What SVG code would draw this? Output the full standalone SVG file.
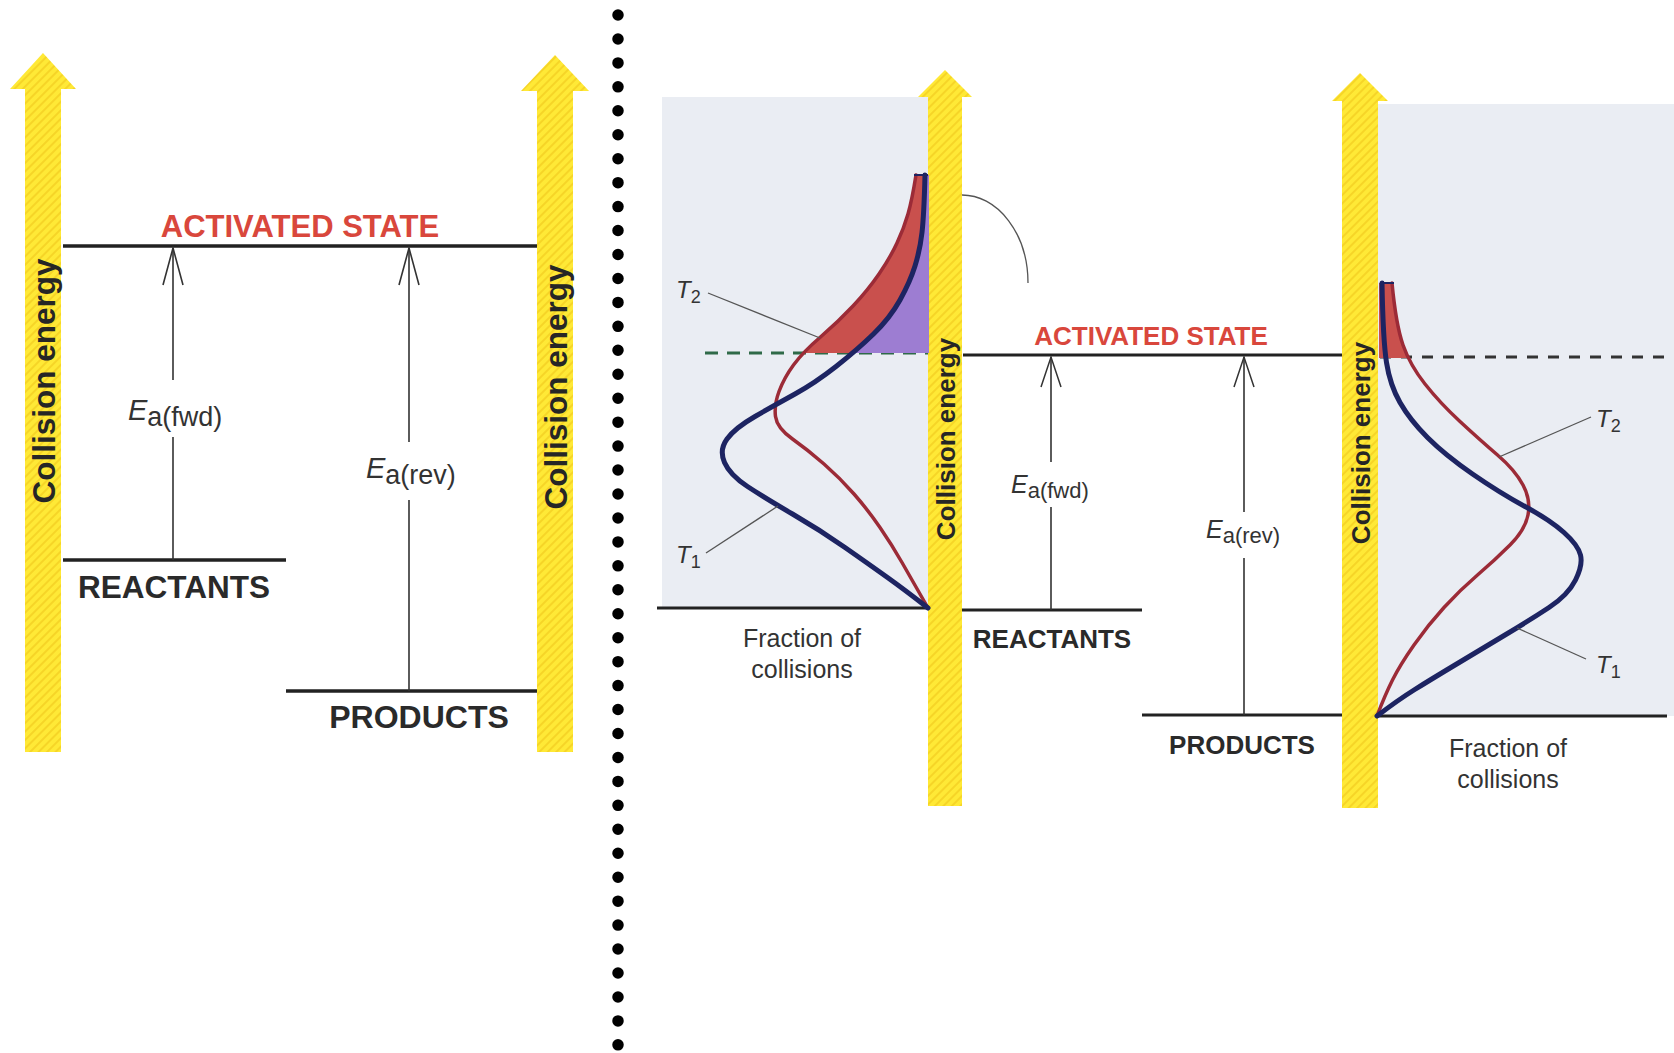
<svg xmlns="http://www.w3.org/2000/svg" width="1674" height="1053" viewBox="0 0 1674 1053">
<style>
.lvl{stroke:#222;stroke-width:3.5;fill:none}
.lvl2{stroke:#222;stroke-width:3;fill:none}
.ea{stroke:#333;stroke-width:1.6;fill:none}
.lead{stroke:#555;stroke-width:1.3;fill:none}
.axisT{font-family:"Liberation Sans",Arial,sans-serif;font-weight:bold;fill:#262626}
.act{font-family:"Liberation Sans",Arial,sans-serif;font-weight:bold;fill:#d9473c}
.lab{font-family:"Liberation Sans",Arial,sans-serif;font-weight:bold;fill:#2a2a2a}
.ital{font-family:"Liberation Sans",Arial,sans-serif;font-style:italic;fill:#333}
.reg{font-family:"Liberation Sans",Arial,sans-serif;fill:#333}
.blue{stroke:#1d2462;stroke-width:5;fill:none;stroke-linecap:round}
.red{stroke:#9c2b37;stroke-width:3.5;fill:none;stroke-linecap:round}
.arrow{fill:url(#hatch)}
</style>
<defs>
<pattern id="hatch" width="6" height="6" patternUnits="userSpaceOnUse" patternTransform="rotate(45)">
<rect width="6" height="6" fill="#ffe936"/>
<rect width="2" height="6" fill="#efc51c" opacity="0.55"/>
</pattern>
<marker id="vL" markerUnits="userSpaceOnUse" markerWidth="42" markerHeight="24" viewBox="0 0 42 24" refX="39" refY="12" orient="auto">
<path d="M2,2 L39,12 L2,22" fill="none" stroke="#333" stroke-width="1.6"/>
</marker>
<marker id="vM" markerUnits="userSpaceOnUse" markerWidth="34" markerHeight="24" viewBox="0 0 34 24" refX="31" refY="12" orient="auto">
<path d="M1,2 L31,12 L1,22" fill="none" stroke="#333" stroke-width="1.5"/>
</marker>
<clipPath id="clipM"><rect x="600" y="175" width="330" height="178"/></clipPath>
<clipPath id="clipR"><rect x="1370" y="283" width="300" height="75"/></clipPath>
</defs>
<rect width="1674" height="1053" fill="#fff"/>

<!-- separator -->
<g id="separator">
<line x1="618" y1="15" x2="618" y2="1045" stroke="#000" stroke-width="11.5" stroke-linecap="round" stroke-dasharray="0 23.95"/>
</g>

<!-- backgrounds of distribution plots -->
<g id="plot-backgrounds">
<rect x="662" y="97" width="266" height="511" fill="#eaedf3"/>
<rect x="1378" y="104" width="296" height="612" fill="#eaedf3"/>
</g>

<!-- yellow energy axes -->
<g id="axis-left1">
<path class="arrow" d="M43,53 L76,89 L61,89 L61,752 L25,752 L25,89 L10,89 Z"/>
<text class="axisT" font-size="31.5" transform="translate(43,381) rotate(-90)" y="11.5" text-anchor="middle">Collision energy</text>
</g>
<g id="axis-left2">
<path class="arrow" d="M555,55 L589,91 L573,91 L573,752 L537,752 L537,91 L521,91 Z"/>
<text class="axisT" font-size="31.5" transform="translate(555,387) rotate(-90)" y="11.5" text-anchor="middle">Collision energy</text>
</g>
<g id="axis-mid">
<path class="arrow" d="M945,70 L972,97 L962,97 L962,806 L928,806 L928,97 L918,97 Z"/>
<text class="axisT" font-size="26" transform="translate(945,439) rotate(-90)" y="9.5" text-anchor="middle">Collision energy</text>
</g>
<g id="axis-right">
<path class="arrow" d="M1360,73 L1388,101 L1378,101 L1378,808 L1342,808 L1342,101 L1332,101 Z"/>
<text class="axisT" font-size="26" transform="translate(1360,443) rotate(-90)" y="9.5" text-anchor="middle">Collision energy</text>
</g>

<!-- LEFT PANEL -->
<g id="left-activated">
<line class="lvl" x1="63" y1="246" x2="537" y2="246"/>
<text class="act" font-size="31" x="300" y="237" text-anchor="middle">ACTIVATED STATE</text>
</g>
<g id="left-reactants">
<line class="lvl" x1="63" y1="560" x2="286" y2="560"/>
<text class="lab" font-size="31.5" x="174" y="598" text-anchor="middle">REACTANTS</text>
</g>
<g id="left-products">
<line class="lvl" x1="286" y1="691" x2="537" y2="691"/>
<text class="lab" font-size="32" x="419" y="728" text-anchor="middle">PRODUCTS</text>
</g>
<g id="left-ea-fwd-label">
<text x="128" y="420"><tspan class="ital" font-size="29">E</tspan><tspan class="reg" font-size="27" dy="6">a(fwd)</tspan></text>
</g>
<g id="left-ea-rev-label">
<text x="366" y="478"><tspan class="ital" font-size="29">E</tspan><tspan class="reg" font-size="27" dy="6">a(rev)</tspan></text>
</g>

<!-- MIDDLE / RIGHT PANEL levels -->
<g id="mid-activated">
<line class="lvl2" x1="963" y1="355" x2="1342" y2="355"/>
<text class="act" font-size="26" x="1151" y="345" text-anchor="middle">ACTIVATED STATE</text>
</g>
<g id="mid-reactants">
<line class="lvl2" x1="962" y1="610" x2="1142" y2="610"/>
<text class="lab" font-size="26" x="1052" y="648" text-anchor="middle">REACTANTS</text>
</g>
<g id="mid-products">
<line class="lvl2" x1="1142" y1="715" x2="1342" y2="715"/>
<text class="lab" font-size="26" x="1242" y="754" text-anchor="middle">PRODUCTS</text>
</g>
<g id="mid-ea-fwd-label">
<text x="1011" y="493"><tspan class="ital" font-size="25">E</tspan><tspan class="reg" font-size="22" dy="5">a(fwd)</tspan></text>
</g>
<g id="mid-ea-rev-label">
<text x="1206" y="538"><tspan class="ital" font-size="25">E</tspan><tspan class="reg" font-size="22" dy="5">a(rev)</tspan></text>
</g>

<!-- Distribution plot 1 (forward) -->
<g id="dist-fwd">
<line class="lvl2" x1="657" y1="608" x2="929" y2="608"/>
<line x1="705" y1="353" x2="928" y2="353" stroke="#2f6a48" stroke-width="3" stroke-dasharray="13 9"/>
<g clip-path="url(#clipM)">
<path fill="#c9504d" d="M916,175 Q912,200 908,214 Q904,228 897,243 Q890,258 879,274 Q868,290 853,306 Q838,322 820.5,337 Q803,352 793.5,365 L929,365 L929,175 Z"/>
<path fill="#9d7dd2" d="M925,175 Q924,215 922,232.5 Q920,250 915,266 Q910,282 900,300 Q890,318 873.5,334 Q857,350 836,366.5 L929,366.5 L929,175 Z"/>
</g>
<path class="red" d="M916,175 Q912,200 908,214 Q904,228 897,243 Q890,258 879,274 Q868,290 853,306 Q838,322 820.5,337 Q803,352 793.5,365 Q784,378 779,391.5 Q774,405 775.5,416.5 Q777,428 792.5,439 Q808,450 824,464 Q840,478 854,494 Q868,510 880,527.5 Q892,545 902,562.5 Q912,580 928,608"/>
<path class="blue" d="M925,175 Q924,215 922,232.5 Q920,250 915,266 Q910,282 900,300 Q890,318 873.5,334 Q857,350 836,366.5 Q815,383 795,394 Q775,405 755,416.5 Q735,428 727,439 Q719,450 724.5,462.5 Q730,475 747.5,486.5 Q765,498 792.5,514 Q820,530 845,547.5 Q870,565 887.5,577.5 Q905,590 928,608"/>
<line x1="914" y1="175" x2="928" y2="175" stroke="#1d2462" stroke-width="2"/>
<text x="676" y="298"><tspan class="ital" font-size="24">T</tspan><tspan class="reg" font-size="18" dy="5">2</tspan></text>
<text x="676" y="563"><tspan class="ital" font-size="24">T</tspan><tspan class="reg" font-size="18" dy="5">1</tspan></text>
<text class="reg" font-size="25" x="802" y="647" text-anchor="middle">Fraction of</text>
<text class="reg" font-size="25" x="802" y="678" text-anchor="middle">collisions</text>
</g>

<!-- Distribution plot 2 (reverse) -->
<g id="dist-rev">
<line class="lvl2" x1="1378" y1="716" x2="1667" y2="716"/>
<line x1="1380" y1="357" x2="1670" y2="357" stroke="#333" stroke-width="3" stroke-dasharray="11 10"/>
<g clip-path="url(#clipR)">
<path fill="#c9504d" d="M1392,283 Q1396,325 1403,345 Q1410,365 1425,384 L1379,384 L1379,283 Z"/>
</g>
<path class="red" d="M1392,283 Q1396,325 1403,345 Q1410,365 1425,384 Q1440,403 1460,421.5 Q1480,440 1497.5,455 Q1515,470 1523,485 Q1531,500 1528,515 Q1525,530 1510,545 Q1495,560 1477.5,575 Q1460,590 1444,607.5 Q1428,625 1414,645 Q1400,665 1392.5,680 Q1385,695 1377,716"/>
<path class="blue" d="M1382,283 Q1383,340 1386.5,362.5 Q1390,385 1400,402.5 Q1410,420 1427.5,437.5 Q1445,455 1472.5,474 Q1500,493 1525,506.5 Q1550,520 1564,532.5 Q1578,545 1580.5,555 Q1583,565 1575.5,580 Q1568,595 1549,607.5 Q1530,620 1505,635 Q1480,650 1455,665 Q1430,680 1414,690 Q1398,700 1377,716"/>
<line x1="1380" y1="283" x2="1394" y2="283" stroke="#1d2462" stroke-width="2"/>
<text x="1596" y="427"><tspan class="ital" font-size="24">T</tspan><tspan class="reg" font-size="18" dy="5">2</tspan></text>
<text x="1596" y="673"><tspan class="ital" font-size="24">T</tspan><tspan class="reg" font-size="18" dy="5">1</tspan></text>
<text class="reg" font-size="25" x="1508" y="757" text-anchor="middle">Fraction of</text>
<text class="reg" font-size="25" x="1508" y="788" text-anchor="middle">collisions</text>
</g>

<!-- connectors -->
<g id="connectors">
<line class="ea" x1="173" y1="380" x2="173" y2="248" marker-end="url(#vL)"/>
<line class="ea" x1="173" y1="437" x2="173" y2="560"/>
<line class="ea" x1="409" y1="442" x2="409" y2="248" marker-end="url(#vL)"/>
<line class="ea" x1="409" y1="500" x2="409" y2="691"/>
<line class="ea" x1="1051" y1="462" x2="1051" y2="357" marker-end="url(#vM)"/>
<line class="ea" x1="1051" y1="507" x2="1051" y2="610"/>
<line class="ea" x1="1244" y1="512" x2="1244" y2="357" marker-end="url(#vM)"/>
<line class="ea" x1="1244" y1="558" x2="1244" y2="715"/>
<line class="lead" x1="708" y1="293" x2="820" y2="338"/>
<line class="lead" x1="706" y1="553" x2="778" y2="506"/>
<line class="lead" x1="1591" y1="417" x2="1499" y2="457"/>
<line class="lead" x1="1517" y1="628" x2="1586" y2="659"/>
<path class="lead" d="M962,195 A66,88 0 0 1 1028,283" stroke="#888"/>
</g>
</svg>
